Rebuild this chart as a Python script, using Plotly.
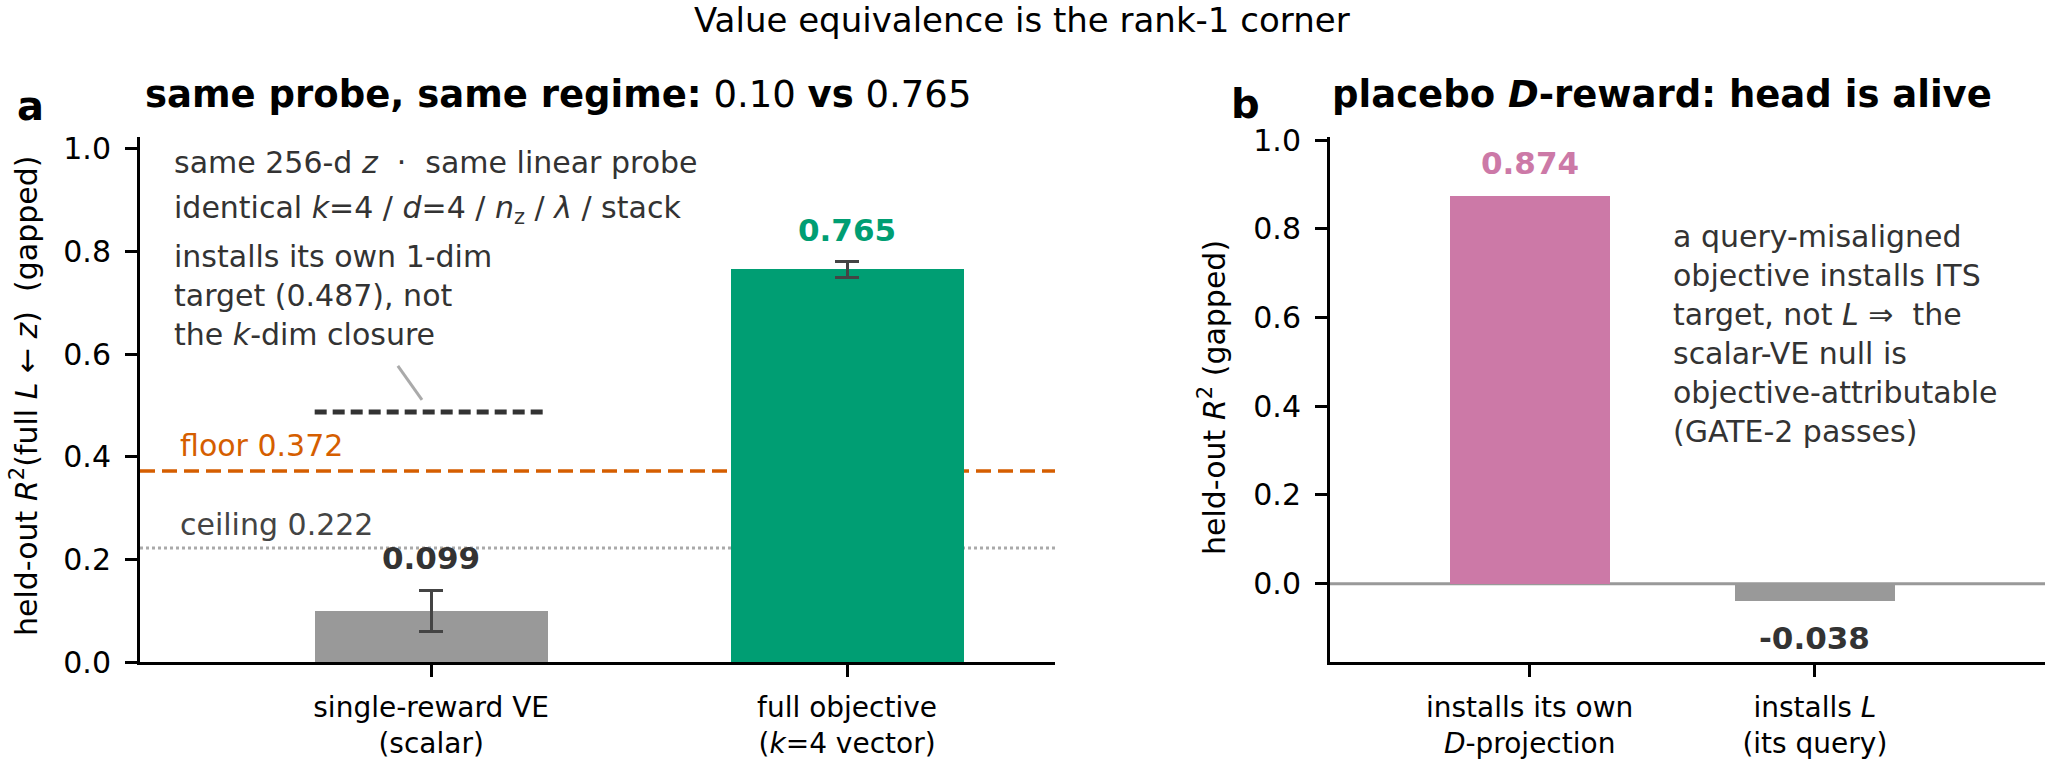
import plotly.graph_objects as go

# ---------------- data ----------------
a_categories = ["single-reward VE<br>(scalar)", "full objective<br>(<i>k</i>=4 vector)"]
a_values = [0.099, 0.765]
a_errors = [0.040, 0.015]
a_labels = ["0.099", "0.765"]
floor_value = 0.372
ceiling_value = 0.222
own_target_value = 0.487

b_categories = ["installs its own<br><i>D</i>-projection", "installs <i>L</i><br>(its query)"]
b_values = [0.874, -0.038]
b_labels = ["0.874", "-0.038"]

y_ticks = [0.0, 0.2, 0.4, 0.6, 0.8, 1.0]
y_ticktext = ["0.0", "0.2", "0.4", "0.6", "0.8", "1.0"]

# ---------------- style ----------------
FONT = "DejaVu Sans"
GREEN = "#009e73"
PINK = "#cc79a7"
GRAY = "#999999"
ORANGE = "#d55e00"
DARK = "#333333"
W, H = 2046, 762
TXT = 30
NB = "\u00a0"

def px_x(p):
    return p / W

def px_y(p):
    return 1 - p / H

fig = go.Figure()

fig.add_trace(go.Bar(
    x=[0, 1], y=a_values, width=0.56,
    marker=dict(color=[GRAY, GREEN], line=dict(width=0)),
    error_y=dict(type="data", array=a_errors, color="#444444", thickness=3, width=12),
    xaxis="x", yaxis="y", hoverinfo="skip",
))
fig.add_trace(go.Bar(
    x=[0, 1], y=b_values, width=0.56,
    marker=dict(color=[PINK, GRAY], line=dict(width=0)),
    xaxis="x2", yaxis="y2", hoverinfo="skip",
))

axis_common = dict(
    showline=True, linecolor="black", linewidth=3, mirror=False,
    ticks="outside", ticklen=12, tickwidth=3, tickcolor="black",
    showgrid=False, zeroline=False, automargin=False,
)
yfont = dict(family=FONT, size=TXT, color="black")
xfont = dict(family=FONT, size=28, color="black")

ydom = [px_y(662), px_y(137)]
fig.update_layout(
    width=W, height=H,
    margin=dict(l=0, r=0, t=0, b=0, pad=0, autoexpand=False),
    paper_bgcolor="white", plot_bgcolor="white",
    showlegend=False, bargap=0,
    font=dict(family=FONT, size=TXT, color=DARK),
    xaxis=dict(domain=[px_x(140), px_x(1055)], range=[-0.70, 1.50],
               tickvals=[0, 1], ticktext=a_categories, ticklabelstandoff=6,
               tickfont=xfont, **axis_common),
    yaxis=dict(domain=ydom, range=[0, 1.023], tickvals=y_ticks, ticktext=y_ticktext,
               ticklabelstandoff=8, tickfont=yfont, **axis_common),
    xaxis2=dict(domain=[px_x(1330), px_x(2045)], range=[-0.70, 1.807], anchor="y2",
                tickvals=[0, 1], ticktext=b_categories, ticklabelstandoff=6,
                tickfont=xfont, **axis_common),
    yaxis2=dict(domain=ydom, range=[-0.1765, 1.0068], anchor="x2",
                tickvals=y_ticks, ticktext=y_ticktext, ticklabelstandoff=8,
                tickfont=yfont, **axis_common),
)

shapes = [
    dict(type="line", xref="x domain", yref="y", x0=0, x1=1, y0=floor_value, y1=floor_value,
         line=dict(color=ORANGE, width=3.5, dash="15px,7px"), layer="below"),
    dict(type="line", xref="x domain", yref="y", x0=0, x1=1, y0=ceiling_value, y1=ceiling_value,
         line=dict(color="#aaaaaa", width=3, dash="3px,3px"), layer="below"),
    dict(type="line", xref="x", yref="y", x0=-0.28, x1=0.28, y0=own_target_value, y1=own_target_value,
         line=dict(color=DARK, width=5, dash="12px,6px"), layer="above"),
    dict(type="line", xref="x", yref="y", x0=-0.08, x1=-0.022, y0=0.577, y1=0.511,
         line=dict(color="#aaaaaa", width=3), layer="above"),
    dict(type="line", xref="x2 domain", yref="y2", x0=0, x1=1, y0=0, y1=0,
         line=dict(color=GRAY, width=3), layer="below"),
]
fig.update_layout(shapes=shapes)

ann = []
def add(text, x, y, xref, yref, size=TXT, color=DARK, xanchor="center", yanchor="middle",
        angle=0, align="left"):
    ann.append(dict(text=text, x=x, y=y, xref=xref, yref=yref, showarrow=False,
                    font=dict(family=FONT, size=size, color=color),
                    xanchor=xanchor, yanchor=yanchor, textangle=angle, align=align,
                    borderpad=0))

# titles
add("Value equivalence is the rank-1 corner", px_x(1022), px_y(20), "paper", "paper", size=34, color="black")
add("<b>same probe, same regime:</b> 0.10 <b>vs</b> 0.765", px_x(558), px_y(94), "paper", "paper",
    size=37, color="black")
add("<b>placebo <i>D</i>-reward: head is alive</b>", px_x(1662), px_y(94), "paper", "paper",
    size=37, color="black")
add("<b>a</b>", px_x(30), px_y(106), "paper", "paper", size=40, color="black")
add("<b>b</b>", px_x(1245), px_y(104), "paper", "paper", size=40, color="black")

# y titles
add("held-out <i>R</i><sup>2</sup>(full <i>L</i> ← <i>z</i>)" + NB + NB + "(gapped)", px_x(24), px_y(396),
    "paper", "paper", size=TXT, color="black", angle=-90)
add("held-out <i>R</i><sup>2</sup> (gapped)", px_x(1212), px_y(398),
    "paper", "paper", size=TXT, color="black", angle=-90)

# panel a annotations
add("same 256-d <i>z</i> " + NB + "· " + NB + "same linear probe", -0.62, 0.973, "x", "y",
    xanchor="left")
add("identical <i>k</i>=4 / <i>d</i>=4 / <i>n</i><sub>z</sub> / <i>λ</i> / stack", -0.62, 0.881, "x", "y",
    xanchor="left")
add("installs its own 1-dim<br>target (0.487), not<br>the <i>k</i>-dim closure", -0.62, 0.715, "x", "y",
    xanchor="left")
add("floor 0.372", -0.607, 0.421, "x", "y", color=ORANGE, xanchor="left")
add("ceiling 0.222", -0.607, 0.267, "x", "y", color="#444444", xanchor="left")
add("<b>" + a_labels[0] + "</b>", 0, 0.203, "x", "y", size=31, color=DARK)
add("<b>" + a_labels[1] + "</b>", 1, 0.842, "x", "y", size=31, color=GREEN)

# panel b annotations
add("<b>" + b_labels[0] + "</b>", 0, 0.948, "x2", "y2", size=31, color=PINK)
add("<b>" + b_labels[1] + "</b>", 1, -0.122, "x2", "y2", size=31, color=DARK)
add("a query-misaligned<br>objective installs ITS<br>target, not <i>L</i>" + NB + "⇒" + NB + NB + "the"
    "<br>scalar-VE null is<br>objective-attributable<br>(GATE-2 passes)", 0.50, 0.562, "x2", "y2",
    xanchor="left")

fig.update_layout(annotations=ann)
fig.write_html("out.html")
